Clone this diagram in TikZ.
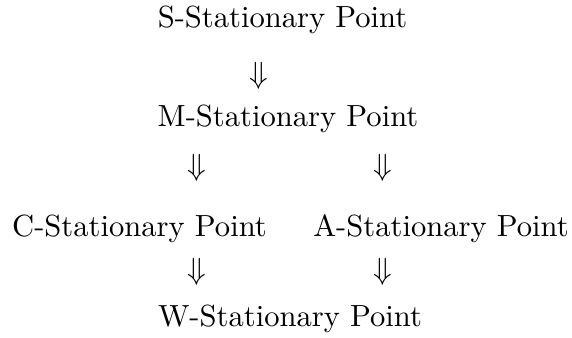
\documentclass[tikz,border=0pt]{standalone}
\usepackage{tikz}
\usepackage{amssymb}
\usepackage{amsmath}

\begin{document}
\begin{tikzpicture}[x=0.327pt,y=-0.327pt,every node/.style={inner sep=0pt,anchor=base}]
\useasboundingbox (0,0) rectangle (572,338);
% Stationaritaetsbegriffe
\node (s) at (282.5,28) {S-Stationary Point};
\node (sm) at (259,84) {$\Downarrow$};
\node (m) at (288,127) {M-Stationary Point};
\node (mc) at (197,176) {$\Downarrow$};
\node (ma) at (383,176) {$\Downarrow$};
\node (c) at (139.5,237) {C-Stationary Point};
\node (a) at (441,237) {A-Stationary Point};
\node (cw) at (196.5,279) {$\Downarrow$};
\node (aw) at (382.5,279) {$\Downarrow$};
\node (w) at (290,326) {W-Stationary Point};
\end{tikzpicture}
\end{document}
